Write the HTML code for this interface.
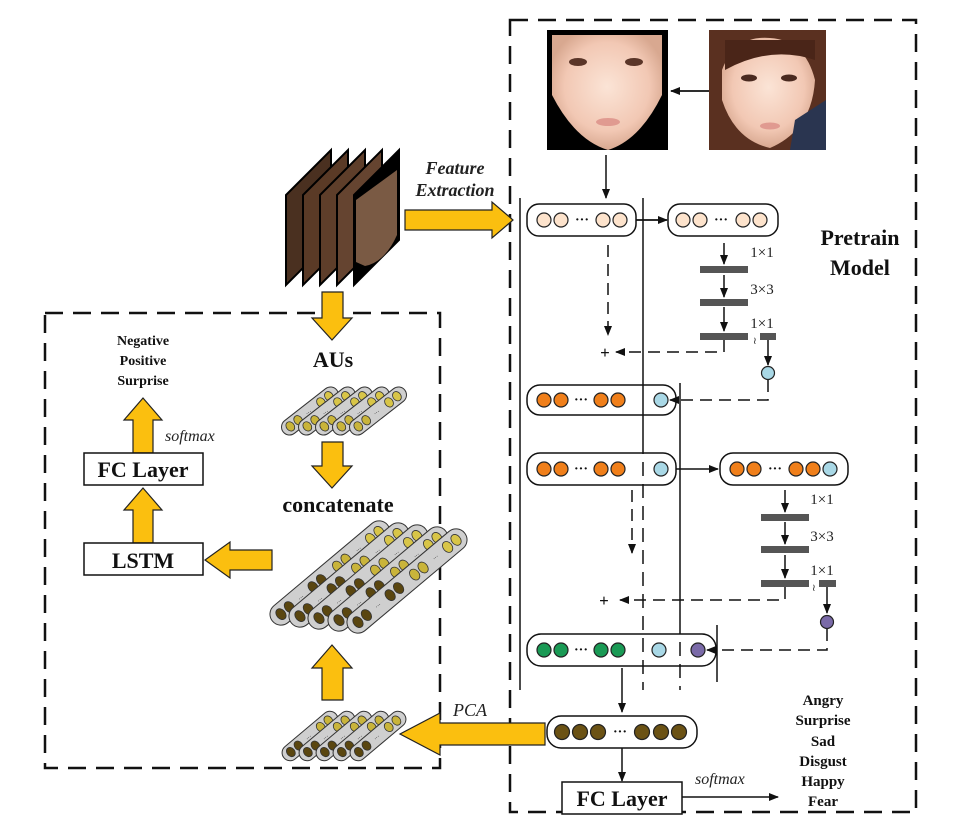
<!DOCTYPE html>
<html><head><meta charset="utf-8"><style>
html,body{margin:0;padding:0;background:#fff;}
svg{display:block;}
.b{font-family:"Liberation Serif",serif;font-weight:bold;fill:#111;}
.i{font-family:"Liberation Serif",serif;font-style:italic;fill:#222;}
.s{font-family:"Liberation Serif",serif;fill:#222;}
</style></head><body>
<svg width="969" height="837" viewBox="0 0 969 837" xmlns="http://www.w3.org/2000/svg">
<defs>
<marker id="ah" markerWidth="10" markerHeight="10" refX="9" refY="5" orient="auto" markerUnits="userSpaceOnUse"><path d="M0,1 L10,5 L0,9 z" fill="#111"/></marker>
<radialGradient id="skin" cx="50%" cy="45%" r="55%"><stop offset="0" stop-color="#fbe4d6"/><stop offset="0.7" stop-color="#f2c8b4"/><stop offset="1" stop-color="#d8a890"/></radialGradient>
<g id="cs">
<rect x="-34" y="-8" width="68" height="16" rx="8" fill="#cfcfcf" stroke="#333" stroke-width="1"/>
<ellipse cx="-25" cy="0" rx="4" ry="5" fill="#c9b43a" stroke="#333" stroke-width="0.8"/>
<ellipse cx="-15" cy="0" rx="4" ry="5" fill="#c9b43a" stroke="#333" stroke-width="0.8"/>
<text x="-2" y="2" font-family="Liberation Sans" font-size="6" text-anchor="middle">···</text>
<ellipse cx="14" cy="0" rx="4" ry="5" fill="#d8c548" stroke="#333" stroke-width="0.8"/>
<ellipse cx="24" cy="0" rx="4" ry="5" fill="#d8c548" stroke="#333" stroke-width="0.8"/>
</g>
<g id="cl">
<rect x="-75" y="-11" width="150" height="22" rx="11" fill="#cfcfcf" stroke="#333" stroke-width="1"/>
<ellipse cx="-64" cy="0" rx="4.5" ry="6" fill="#5a4610" stroke="#333" stroke-width="0.8"/>
<ellipse cx="-53" cy="0" rx="4.5" ry="6" fill="#5a4610" stroke="#333" stroke-width="0.8"/>
<text x="-38" y="2" font-family="Liberation Sans" font-size="6" text-anchor="middle">···</text>
<ellipse cx="-22" cy="0" rx="4.5" ry="6" fill="#5a4610" stroke="#333" stroke-width="0.8"/>
<ellipse cx="-11" cy="0" rx="4.5" ry="6" fill="#5a4610" stroke="#333" stroke-width="0.8"/>
<ellipse cx="10" cy="0" rx="4.5" ry="6" fill="#c9b43a" stroke="#333" stroke-width="0.8"/>
<ellipse cx="21" cy="0" rx="4.5" ry="6" fill="#c9b43a" stroke="#333" stroke-width="0.8"/>
<text x="37" y="2" font-family="Liberation Sans" font-size="6" text-anchor="middle">···</text>
<ellipse cx="53" cy="0" rx="4.5" ry="6" fill="#d8c548" stroke="#333" stroke-width="0.8"/>
<ellipse cx="64" cy="0" rx="4.5" ry="6" fill="#d8c548" stroke="#333" stroke-width="0.8"/>
</g>
<g id="cb">
<rect x="-34" y="-8" width="68" height="16" rx="8" fill="#cfcfcf" stroke="#333" stroke-width="1"/>
<ellipse cx="-25" cy="0" rx="4" ry="5" fill="#5a4610" stroke="#333" stroke-width="0.8"/>
<ellipse cx="-15" cy="0" rx="4" ry="5" fill="#5a4610" stroke="#333" stroke-width="0.8"/>
<text x="-2" y="2" font-family="Liberation Sans" font-size="6" text-anchor="middle">···</text>
<ellipse cx="14" cy="0" rx="4" ry="5" fill="#c9b43a" stroke="#333" stroke-width="0.8"/>
<ellipse cx="24" cy="0" rx="4" ry="5" fill="#c9b43a" stroke="#333" stroke-width="0.8"/>
</g>
</defs>

<rect x="510" y="20" width="406" height="792" fill="none" stroke="#111" stroke-width="2.5" stroke-dasharray="18,10"/>
<rect x="45" y="313" width="395" height="455" fill="none" stroke="#111" stroke-width="2.5" stroke-dasharray="18,10"/>

<rect x="547" y="30" width="121" height="120" fill="#000"/>
<path d="M552,35 L662,35 L662,95 Q640,140 608,150 Q575,140 552,95 Z" fill="url(#skin)"/>
<ellipse cx="578" cy="62" rx="9" ry="4" fill="#5a3528"/><ellipse cx="634" cy="62" rx="9" ry="4" fill="#5a3528"/>
<ellipse cx="608" cy="122" rx="12" ry="4" fill="#e09a90"/>
<rect x="709" y="30" width="117" height="120" fill="#5a3020"/>
<path d="M722,70 Q735,35 770,38 Q805,40 815,80 Q812,130 770,148 Q735,140 722,100 Z" fill="url(#skin)"/>
<path d="M725,40 L815,40 L815,60 Q770,45 725,70 Z" fill="#4a2518"/>
<path d="M795,120 L826,100 L826,150 L790,150 Z" fill="#2a3550"/>
<ellipse cx="749" cy="78" rx="8" ry="3.5" fill="#4a2a20"/><ellipse cx="789" cy="78" rx="8" ry="3.5" fill="#4a2a20"/>
<ellipse cx="770" cy="126" rx="10" ry="3.5" fill="#e09a90"/>
<line x1="709" y1="91" x2="671" y2="91" stroke="#111" stroke-width="1.8" marker-end="url(#ah)"/>
<line x1="606" y1="155" x2="606" y2="198" stroke="#111" stroke-width="1.5" marker-end="url(#ah)"/>

<line x1="520" y1="198" x2="520" y2="690" stroke="#111" stroke-width="1.5"/>
<line x1="643" y1="198" x2="643" y2="440" stroke="#111" stroke-width="1.5"/>
<line x1="643" y1="440" x2="643" y2="690" stroke="#111" stroke-width="1.5" stroke-dasharray="14,8"/>
<line x1="680" y1="383" x2="680" y2="620" stroke="#111" stroke-width="1.5"/>
<line x1="680" y1="620" x2="680" y2="690" stroke="#111" stroke-width="1.5" stroke-dasharray="14,8"/>
<line x1="717" y1="625" x2="717" y2="682" stroke="#111" stroke-width="1.5"/>

<rect x="527" y="204" width="109" height="32" rx="12" fill="#fff" stroke="#111" stroke-width="1.5"/>
<g fill="#fde3cc" stroke="#222" stroke-width="1.2"><circle cx="544" cy="220" r="7"/><circle cx="561" cy="220" r="7"/><circle cx="603" cy="220" r="7"/><circle cx="620" cy="220" r="7"/></g>
<text x="582" y="224" class="b" font-size="14" text-anchor="middle">···</text>
<line x1="636" y1="220" x2="667" y2="220" stroke="#111" stroke-width="1.8" marker-end="url(#ah)"/>
<rect x="668" y="204" width="110" height="32" rx="12" fill="#fff" stroke="#111" stroke-width="1.5"/>
<g fill="#fde3cc" stroke="#222" stroke-width="1.2"><circle cx="683" cy="220" r="7"/><circle cx="700" cy="220" r="7"/><circle cx="743" cy="220" r="7"/><circle cx="760" cy="220" r="7"/></g>
<text x="721" y="224" class="b" font-size="14" text-anchor="middle">···</text>

<g stroke="#111" stroke-width="1.5">
<line x1="724" y1="243" x2="724" y2="264" marker-end="url(#ah)"/>
<line x1="724" y1="275" x2="724" y2="297" marker-end="url(#ah)"/>
<line x1="724" y1="307" x2="724" y2="331" marker-end="url(#ah)"/>
</g>
<g fill="#555"><rect x="700" y="266" width="48" height="7"/><rect x="700" y="299" width="48" height="7"/><rect x="700" y="333" width="48" height="7"/><rect x="760" y="333" width="16" height="7"/></g>
<text x="762" y="257" class="s" font-size="15" text-anchor="middle">1×1</text>
<text x="762" y="294" class="s" font-size="15" text-anchor="middle">3×3</text>
<text x="762" y="328" class="s" font-size="15" text-anchor="middle">1×1</text>
<text x="753" y="344" class="s" font-size="10">≀</text>
<path d="M724,340 L724,352 L616,352" fill="none" stroke="#111" stroke-width="1.5" stroke-dasharray="12,7" marker-end="url(#ah)"/>
<text x="605" y="358" class="b" font-size="17" text-anchor="middle">+</text>
<line x1="608" y1="245" x2="608" y2="335" stroke="#111" stroke-width="1.5" stroke-dasharray="12,7" marker-end="url(#ah)"/>
<line x1="768" y1="340" x2="768" y2="365" stroke="#111" stroke-width="1.5" marker-end="url(#ah)"/>
<circle cx="768" cy="373" r="6.5" fill="#a9d8e6" stroke="#222" stroke-width="1.2"/>
<path d="M768,380 L768,400 L670,400" fill="none" stroke="#111" stroke-width="1.5" stroke-dasharray="12,7" marker-end="url(#ah)"/>

<rect x="527" y="385" width="149" height="30" rx="13" fill="none" stroke="#111" stroke-width="1.5"/>
<g stroke="#222" stroke-width="1.2"><g fill="#f07f1a"><circle cx="544" cy="400" r="7"/><circle cx="561" cy="400" r="7"/><circle cx="601" cy="400" r="7"/><circle cx="618" cy="400" r="7"/></g><circle cx="661" cy="400" r="7" fill="#a9d8e6"/></g>
<text x="581" y="404" class="b" font-size="14" text-anchor="middle">···</text>

<rect x="527" y="453" width="149" height="32" rx="13" fill="none" stroke="#111" stroke-width="1.5"/>
<g stroke="#222" stroke-width="1.2"><g fill="#f07f1a"><circle cx="544" cy="469" r="7"/><circle cx="561" cy="469" r="7"/><circle cx="601" cy="469" r="7"/><circle cx="618" cy="469" r="7"/></g><circle cx="661" cy="469" r="7" fill="#a9d8e6"/></g>
<text x="581" y="473" class="b" font-size="14" text-anchor="middle">···</text>
<line x1="676" y1="469" x2="718" y2="469" stroke="#111" stroke-width="1.5" marker-end="url(#ah)"/>
<rect x="720" y="453" width="128" height="32" rx="13" fill="#fff" stroke="#111" stroke-width="1.5"/>
<g stroke="#222" stroke-width="1.2"><g fill="#f07f1a"><circle cx="737" cy="469" r="7"/><circle cx="754" cy="469" r="7"/><circle cx="796" cy="469" r="7"/><circle cx="813" cy="469" r="7"/></g><circle cx="830" cy="469" r="7" fill="#a9d8e6"/></g>
<text x="775" y="473" class="b" font-size="14" text-anchor="middle">···</text>

<g stroke="#111" stroke-width="1.5">
<line x1="785" y1="490" x2="785" y2="512" marker-end="url(#ah)"/>
<line x1="785" y1="522" x2="785" y2="544" marker-end="url(#ah)"/>
<line x1="785" y1="555" x2="785" y2="578" marker-end="url(#ah)"/>
</g>
<g fill="#555"><rect x="761" y="514" width="48" height="7"/><rect x="761" y="546" width="48" height="7"/><rect x="761" y="580" width="48" height="7"/><rect x="819" y="580" width="17" height="7"/></g>
<text x="822" y="504" class="s" font-size="15" text-anchor="middle">1×1</text>
<text x="822" y="541" class="s" font-size="15" text-anchor="middle">3×3</text>
<text x="822" y="575" class="s" font-size="15" text-anchor="middle">1×1</text>
<text x="812" y="591" class="s" font-size="10">≀</text>
<path d="M785,587 L785,600 L620,600" fill="none" stroke="#111" stroke-width="1.5" stroke-dasharray="12,7" marker-end="url(#ah)"/>
<text x="604" y="606" class="b" font-size="17" text-anchor="middle">+</text>
<line x1="632" y1="490" x2="632" y2="553" stroke="#111" stroke-width="1.5" stroke-dasharray="12,7" marker-end="url(#ah)"/>
<line x1="827" y1="587" x2="827" y2="613" stroke="#111" stroke-width="1.5" marker-end="url(#ah)"/>
<circle cx="827" cy="622" r="6.5" fill="#7a6aa8" stroke="#222" stroke-width="1.2"/>
<path d="M827,629 L827,650 L707,650" fill="none" stroke="#111" stroke-width="1.5" stroke-dasharray="12,7" marker-end="url(#ah)"/>

<rect x="527" y="634" width="189" height="32" rx="14" fill="none" stroke="#111" stroke-width="1.5"/>
<g stroke="#222" stroke-width="1.2"><g fill="#1a9a55"><circle cx="544" cy="650" r="7"/><circle cx="561" cy="650" r="7"/><circle cx="601" cy="650" r="7"/><circle cx="618" cy="650" r="7"/></g><circle cx="659" cy="650" r="7" fill="#a9d8e6"/><circle cx="698" cy="650" r="7" fill="#7a6aa8"/></g>
<text x="581" y="654" class="b" font-size="14" text-anchor="middle">···</text>

<line x1="622" y1="668" x2="622" y2="712" stroke="#111" stroke-width="1.5" marker-end="url(#ah)"/>
<rect x="547" y="716" width="150" height="32" rx="14" fill="#fff" stroke="#111" stroke-width="1.5"/>
<g fill="#6b5214" stroke="#222" stroke-width="1.2"><circle cx="562" cy="732" r="7.5"/><circle cx="580" cy="732" r="7.5"/><circle cx="598" cy="732" r="7.5"/><circle cx="642" cy="732" r="7.5"/><circle cx="661" cy="732" r="7.5"/><circle cx="679" cy="732" r="7.5"/></g>
<text x="620" y="736" class="b" font-size="14" text-anchor="middle">···</text>
<line x1="622" y1="748" x2="622" y2="781" stroke="#111" stroke-width="1.5" marker-end="url(#ah)"/>
<rect x="562" y="782" width="120" height="32" fill="#fff" stroke="#111" stroke-width="1.5"/>
<text x="622" y="806" class="b" font-size="22" text-anchor="middle">FC Layer</text>
<text x="695" y="784" class="i" font-size="16">softmax</text>
<line x1="682" y1="797" x2="778" y2="797" stroke="#111" stroke-width="1.5" marker-end="url(#ah)"/>
<g class="b" font-size="15" text-anchor="middle">
<text x="823" y="705">Angry</text><text x="823" y="725">Surprise</text><text x="823" y="746">Sad</text><text x="823" y="766">Disgust</text><text x="823" y="786">Happy</text><text x="823" y="806">Fear</text>
</g>
<text x="860" y="245" class="b" font-size="22" text-anchor="middle">Pretrain</text>
<text x="860" y="275" class="b" font-size="22" text-anchor="middle">Model</text>

<g stroke="#000" stroke-width="2">
<polygon points="286,195 331,150 331,240 286,285" fill="#4a3020"/>
<polygon points="303,195 348,150 348,240 303,285" fill="#5a3a26"/>
<polygon points="320,195 365,150 365,240 320,285" fill="#5e3e2a"/>
<polygon points="337,195 382,150 382,240 337,285" fill="#654430"/>
<polygon points="354,195 399,150 399,240 354,285" fill="#000"/>
<path d="M356,200 L397,170 L397,235 Q385,262 365,266 L356,262 Z" fill="#7a5a44" stroke="none"/>
</g>

<g fill="#fbbf0f" stroke="#222" stroke-width="1.2">
<polygon points="405,210 492,210 492,202 513,220 492,238 492,230 405,230"/>
<polygon points="322,292 343,292 343,318 352,318 332,340 312,318 322,318"/>
<polygon points="322,442 343,442 343,466 352,466 332,488 312,466 322,466"/>
<polygon points="322,700 343,700 343,668 352,668 332,645 312,668 322,668"/>
<polygon points="545,723 440,723 440,713 400,734 440,755 440,745 545,745"/>
<polygon points="272,550 230,550 230,542 205,560 230,578 230,570 272,570"/>
<polygon points="133,543 153,543 153,510 162,510 143,488 124,510 133,510"/>
<polygon points="133,453 153,453 153,420 162,420 143,398 124,420 133,420"/>
</g>
<text x="455" y="174" class="i" font-size="18" font-weight="bold" text-anchor="middle">Feature</text>
<text x="455" y="196" class="i" font-size="18" font-weight="bold" text-anchor="middle">Extraction</text>
<text x="470" y="716" class="i" font-size="18" text-anchor="middle">PCA</text>

<text x="333" y="367" class="b" font-size="22" text-anchor="middle">AUs</text>
<text x="338" y="512" class="b" font-size="22" text-anchor="middle">concatenate</text>

<g transform="translate(310,411) rotate(-38)"><use href="#cs"/></g>
<g transform="translate(327,411) rotate(-38)"><use href="#cs"/></g>
<g transform="translate(344,411) rotate(-38)"><use href="#cs"/></g>
<g transform="translate(361,411) rotate(-38)"><use href="#cs"/></g>
<g transform="translate(378,411) rotate(-38)"><use href="#cs"/></g>

<g transform="translate(330,573) rotate(-40)"><use href="#cl"/></g>
<g transform="translate(349,575) rotate(-40)"><use href="#cl"/></g>
<g transform="translate(368,577) rotate(-40)"><use href="#cl"/></g>
<g transform="translate(388,579) rotate(-40)"><use href="#cl"/></g>
<g transform="translate(407,581) rotate(-40)"><use href="#cl"/></g>

<g transform="translate(310,736) rotate(-40)"><use href="#cb"/></g>
<g transform="translate(327,736) rotate(-40)"><use href="#cb"/></g>
<g transform="translate(344,736) rotate(-40)"><use href="#cb"/></g>
<g transform="translate(361,736) rotate(-40)"><use href="#cb"/></g>
<g transform="translate(378,736) rotate(-40)"><use href="#cb"/></g>

<rect x="84" y="453" width="119" height="32" fill="#fff" stroke="#111" stroke-width="1.5"/>
<text x="143" y="477" class="b" font-size="22" text-anchor="middle">FC Layer</text>
<rect x="84" y="543" width="119" height="32" fill="#fff" stroke="#111" stroke-width="1.5"/>
<text x="143" y="568" class="b" font-size="22" text-anchor="middle">LSTM</text>
<text x="165" y="441" class="i" font-size="16">softmax</text>
<g class="b" font-size="14" text-anchor="middle">
<text x="143" y="345">Negative</text><text x="143" y="365">Positive</text><text x="143" y="385">Surprise</text>
</g>
</svg>
</body></html>
